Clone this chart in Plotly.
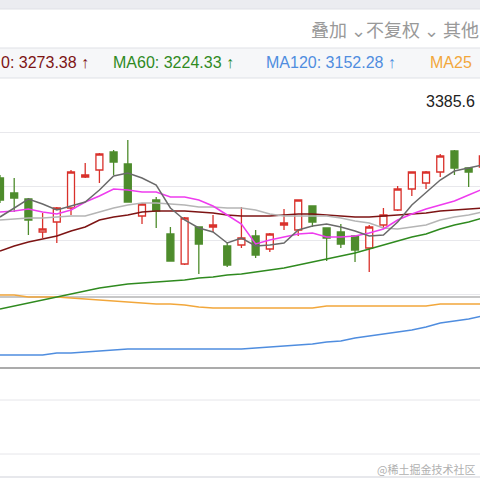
import plotly.graph_objects as go

idx = list(range(35))
opens  = [3308,3293,3287,3254,3264,3278,3309,3316,3334,3322,3270,3286,3252,3222,3259,3259,3240,3241,3250,3237,3261,3256,3280,3258,3254,3250,3238,3261,3276,3297,3303,3314,3335,3318,3319]
closes = [3286,3288,3266,3257,3278,3314,3311,3332,3324,3284,3282,3275,3225,3268,3242,3261,3221,3248,3231,3252,3263,3286,3264,3248,3242,3236,3259,3271,3297,3314,3314,3330,3318,3314,3330]
highs  = [3311,3308,3288,3273,3279,3316,3323,3333,3336,3346,3283,3289,3259,3269,3259,3271,3243,3279,3256,3253,3277,3286,3280,3258,3262,3250,3261,3278,3300,3314,3315,3332,3336,3318,3333]
lows   = [3283,3274,3251,3248,3243,3271,3308,3303,3311,3284,3262,3258,3225,3221,3212,3254,3219,3238,3228,3234,3256,3250,3259,3225,3238,3224,3214,3257,3275,3290,3297,3309,3311,3299,3316]

ma5   = [3269,3278,3287,3282,3276,3280,3284,3296,3310,3313,3308,3301,3278,3266,3258,3254,3243,3248,3240,3241,3243,3256,3260,3262,3259,3255,3250,3251,3264,3281,3294,3306,3315,3318,3321]
ma10  = [3274,3275,3277,3274,3272,3276,3284,3290,3297,3296,3294,3294,3289,3289,3286,3280,3271,3262,3242,3246,3249,3252,3253,3249,3249,3250,3253,3257,3266,3272,3277,3281,3285,3291,3297]
ma20  = [3266,3267,3268,3268,3269,3270,3270,3274,3278,3281,3283,3283,3282,3281,3279,3279,3278,3278,3276,3272,3270,3270,3270,3270,3268,3265,3263,3258,3257,3259,3261,3266,3269,3271,3274]
ma30  = [3235,3240,3244,3247,3250,3255,3259,3266,3269,3271,3274,3275,3275,3275,3274,3273,3271,3270,3270,3270,3271,3272,3272,3271,3270,3269,3269,3270,3271,3272,3273,3275,3276,3277,3278]
ma60  = [3177,3180,3183,3186,3189,3192,3195,3198,3200,3202,3203,3204,3205,3206,3208,3209,3211,3212,3214,3216,3218,3221,3224,3227,3230,3233,3237,3241,3245,3249,3252,3257,3261,3264,3268]
ma120 = [3131,3131,3131,3131,3133,3133,3134,3135,3136,3137,3137,3137,3137,3137,3137,3137,3137,3137,3138,3139,3140,3141,3142,3144,3145,3148,3150,3152,3154,3156,3159,3163,3165,3167,3170]
ma250 = [3191,3191,3189,3189,3189,3188,3187,3186,3185,3184,3183,3182,3182,3181,3179,3178,3178,3178,3178,3178,3178,3178,3178,3180,3180,3180,3180,3180,3180,3180,3180,3182,3182,3182,3182]
grid_prices = [3354,3300,3246,3192]
max_label = "3385.6"

W = 480
def py(p):  # pixel y -> paper y
    return 1 - p / W
def px(p):
    return p / W

fig = go.Figure()
lines = [(ma250,"#f2a73b"),(ma120,"#4f8ddf"),(ma60,"#2f8a1f"),(ma30,"#7d1414"),(ma20,"#b5b5b5"),(ma10,"#ee3cee"),(ma5,"#6a6a6a")]
for ys, c in lines:
    fig.add_trace(go.Scatter(x=idx, y=ys, mode="lines", line=dict(color=c, width=1.5), hoverinfo="skip"))
fig.add_trace(go.Candlestick(x=idx, open=opens, close=closes, high=highs, low=lows,
    increasing=dict(line=dict(color="#d9312b", width=1.3), fillcolor="#ffffff"),
    decreasing=dict(line=dict(color="#4e8c2c", width=1.3), fillcolor="#4e8c2c"),
    whiskerwidth=0))

shapes = [
    dict(type="rect", xref="paper", yref="paper", x0=0, x1=1, y0=py(9), y1=1, fillcolor="#ebecf0", line=dict(width=0), layer="below"),
    dict(type="rect", xref="paper", yref="paper", x0=0, x1=1, y0=py(78), y1=py(48), fillcolor="#f6f7f9", line=dict(width=0), layer="below"),
]
for yy, c, w in [(9,"#dfe1e6",1),(48,"#dfe1e6",1),(78,"#dfe1e6",1),(297,"#8f8f8f",1.2),(368,"#8f8f8f",1.5),(400,"#e6e6ea",1),(454,"#e6e6ea",1),(477,"#dfe1e6",1.5)]:
    shapes.append(dict(type="line", xref="paper", yref="paper", x0=0, x1=1, y0=py(yy), y1=py(yy), line=dict(color=c, width=w), layer="below"))

F = "Liberation Sans, Arial, sans-serif"
ann = [
    dict(text="叠加 ⌄不复权 ⌄ 其他", x=px(309), y=py(29), xanchor="left", yanchor="middle", font=dict(size=18, color="#999999", family="Noto Sans CJK SC")),
    dict(text="0: 3273.38 ↑", x=px(-1), y=py(63), xanchor="left", yanchor="middle", font=dict(size=16, color="#7d1414", family=F)),
    dict(text="MA60: 3224.33 ↑", x=px(111), y=py(63), xanchor="left", yanchor="middle", font=dict(size=16, color="#2f8a1f", family=F)),
    dict(text="MA120: 3152.28 ↑", x=px(264), y=py(63), xanchor="left", yanchor="middle", font=dict(size=16, color="#4f8ddf", family=F)),
    dict(text="MA25", x=px(428), y=py(63), xanchor="left", yanchor="middle", font=dict(size=16, color="#f2a73b", family=F)),
    dict(text=max_label, x=px(424), y=py(101), xanchor="left", yanchor="middle", font=dict(size=16, color="#222222", family=F)),
    dict(text="@稀土掘金技术社区", x=px(477), y=py(469), xanchor="right", yanchor="middle", font=dict(size=11, color="#b0b0b0", family="Noto Sans CJK SC")),
]
for a in ann:
    a.update(xref="paper", yref="paper", showarrow=False)

fig.update_layout(width=480, height=480, margin=dict(l=0, r=0, t=0, b=0, pad=0, autoexpand=False),
    paper_bgcolor="white", plot_bgcolor="rgba(0,0,0,0)", showlegend=False,
    shapes=shapes, annotations=ann,
    xaxis=dict(range=[0, 33.8], showgrid=False, zeroline=False, showticklabels=False, rangeslider=dict(visible=False), fixedrange=True, automargin=False),
    yaxis=dict(domain=[py(369), py(80)], range=[3117, 3406], tickvals=grid_prices, showticklabels=False,
               gridcolor="#e8e8ec", zeroline=False, fixedrange=True, automargin=False))
fig.write_html("out.html", config={"displayModeBar": False},
               post_script="document.body.style.margin='0';document.body.style.overflow='hidden';")
